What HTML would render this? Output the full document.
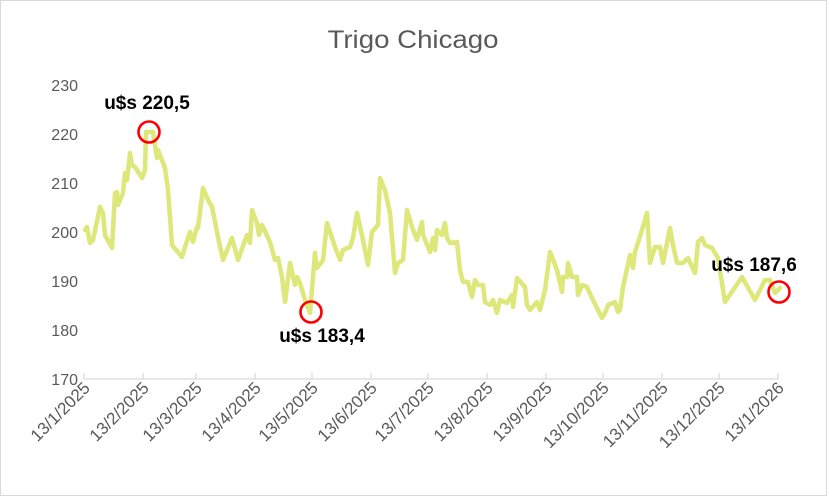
<!DOCTYPE html>
<html><head><meta charset="utf-8"><style>
html,body{margin:0;padding:0;background:#fff;}
svg{display:block;font-family:"Liberation Sans",sans-serif;}
</style></head><body>
<svg width="827" height="496" viewBox="0 0 827 496" xmlns="http://www.w3.org/2000/svg">
<rect x="0.5" y="0.5" width="826" height="495" fill="#fff" stroke="#d9d9d9"/>
<text x="413" y="48" text-anchor="middle" font-size="25" fill="#595959" textLength="171" lengthAdjust="spacingAndGlyphs">Trigo Chicago</text>
<g font-size="16" fill="#595959" text-anchor="end">
<text x="78" y="91">230</text><text x="78" y="140">220</text><text x="78" y="189">210</text>
<text x="78" y="238">200</text><text x="78" y="287">190</text><text x="78" y="336">180</text><text x="78" y="385">170</text>
</g>
<line x1="84" y1="379" x2="778" y2="379" stroke="#d9d9d9" stroke-width="1.2"/>
<g stroke="#d9d9d9" stroke-width="1.2">
<line x1="84" y1="373" x2="84" y2="379"/><line x1="143" y1="373" x2="143" y2="379"/><line x1="196" y1="373" x2="196" y2="379"/>
<line x1="255" y1="373" x2="255" y2="379"/><line x1="312" y1="373" x2="312" y2="379"/><line x1="371" y1="373" x2="371" y2="379"/>
<line x1="428" y1="373" x2="428" y2="379"/><line x1="487" y1="373" x2="487" y2="379"/><line x1="546" y1="373" x2="546" y2="379"/>
<line x1="603" y1="373" x2="603" y2="379"/><line x1="662" y1="373" x2="662" y2="379"/><line x1="719" y1="373" x2="719" y2="379"/>
<line x1="778" y1="373" x2="778" y2="379"/>
</g>
<g font-size="17" fill="#595959" text-anchor="end">
<text transform="translate(91,389) rotate(-45)">13/1/2025</text>
<text transform="translate(150,389) rotate(-45)">13/2/2025</text>
<text transform="translate(203,389) rotate(-45)">13/3/2025</text>
<text transform="translate(262,389) rotate(-45)">13/4/2025</text>
<text transform="translate(319,389) rotate(-45)">13/5/2025</text>
<text transform="translate(378,389) rotate(-45)">13/6/2025</text>
<text transform="translate(435,389) rotate(-45)">13/7/2025</text>
<text transform="translate(494,389) rotate(-45)">13/8/2025</text>
<text transform="translate(553,389) rotate(-45)">13/9/2025</text>
<text transform="translate(610,389) rotate(-45)">13/10/2025</text>
<text transform="translate(669,389) rotate(-45)">13/11/2025</text>
<text transform="translate(726,389) rotate(-45)">13/12/2025</text>
<text transform="translate(785,389) rotate(-45)">13/1/2026</text>
</g>
<polyline fill="none" stroke="#dde77a" stroke-width="4.5" stroke-linejoin="round" stroke-linecap="round" points="
85,230 87,227 90,243 93,240 100,207 103,213 105,235 112,248 115,193 117,192 118,205 123,193 125,173 127,180 130,153 132,165 135,167 142,178 145,170 146,132 153,132 157,158 158,150 165,168 168,190 172,245 182,257 185,247 190,232 193,242 197,227 198,228 203,188 208,200 212,207 218,237 223,260 232,238 238,260 247,235 250,243 252,210 257,223 259,235 262,225 270,242 275,260 278,258 282,277 285,302 290,263 295,285 297,277 300,283 305,300 310,313 315,253 317,268 323,260 327,223 335,247 340,260 343,250 350,247 353,238 357,213 363,240 368,265 372,232 378,225 380,178 385,190 390,213 395,273 398,263 403,260 407,210 412,227 417,240 422,222 423,235 430,252 433,238 435,250 437,230 442,235 445,223 447,238 450,243 457,242 460,270 463,282 468,282 472,297 475,280 478,285 483,285 485,302 490,305 493,300 497,313 500,300 507,303 512,295 513,307 517,278 525,287 527,305 530,310 537,302 540,310 545,290 550,252 557,270 562,292 563,277 567,277 568,263 572,277 577,277 578,295 582,285 587,287 592,298 602,318 605,313 608,305 615,302 618,312 620,310 623,287 630,255 633,268 635,252 642,230 647,213 650,263 655,247 660,247 663,263 670,228 673,245 677,263 683,263 688,258 695,273 698,242 702,238 705,245 712,248 718,258 725,302 742,277 755,300 765,280 770,280 775,293 780,288"/>
<g fill="none" stroke="#ff0000" stroke-width="2.6">
<circle cx="149" cy="132" r="10.5"/>
<circle cx="311" cy="312" r="10.5"/>
<circle cx="779" cy="292" r="10.5"/>
</g>
<g font-size="19" font-weight="bold" fill="#000" text-anchor="middle">
<text x="147" y="109">u$s 220,5</text>
<text x="322" y="342">u$s 183,4</text>
<text x="754" y="271">u$s 187,6</text>
</g>
</svg>
</body></html>
